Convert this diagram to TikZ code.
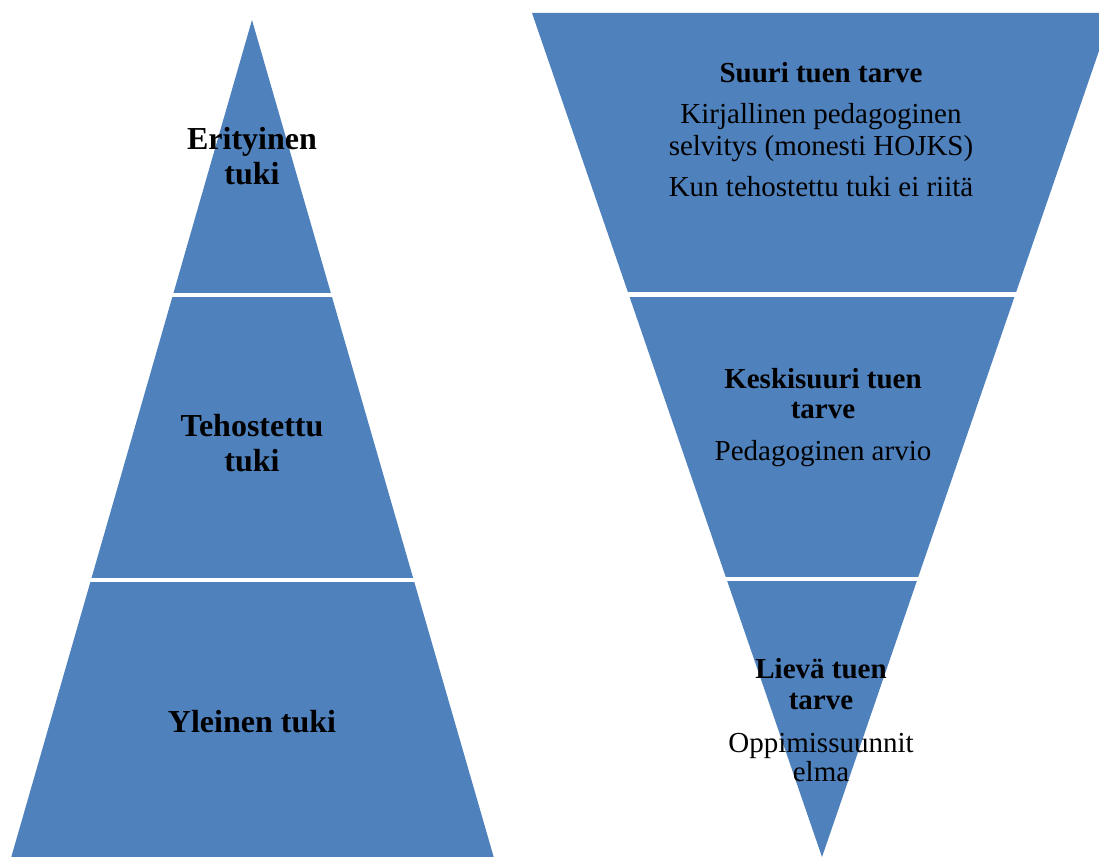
\documentclass[tikz,border=0pt]{standalone}
\usepackage{fontspec}
\setmainfont{Liberation Serif}
\usetikzlibrary{positioning}
\definecolor{tukiblue}{RGB}{79,129,189}

\begin{document}
\begin{tikzpicture}[x=1pt,y=-1pt]
\tikzstyle{level}=[fill=tukiblue]
\tikzstyle{gap}=[draw=white, line width=4.5pt]
\tikzstyle{head}=[align=center, inner sep=0pt, font=\fontsize{32}{35}\selectfont\bfseries]
\tikzstyle{body}=[align=center, inner sep=0pt, font=\fontsize{29}{32}\selectfont]
\useasboundingbox (0,0) rectangle (1099,856);
\clip (0,0) rectangle (1099,856);
% left pyramid
	\path[level] (252,20) -- (494,858) -- (11,858) -- cycle;
	\draw[gap] (165,295) -- (339,295);
	\draw[gap] (83,580) -- (421,580);

	\node[head] (er_tuki) at (252,156) {Erityinen\\tuki};
	\node[head] (teh_tuki) at (252,443) {Tehostettu\\tuki};
	\node[head] (yl_tuki) at (252,722) {Yleinen tuki};

% right, upside down
	\path[level] (532,13) -- (1112,13) -- (822,857) -- cycle;
	\draw[gap] (620,294.5) -- (1024,294.5);
	\draw[gap] (718,579) -- (926,579);

	\node[body] (suuri) at (821,130) {\textbf{Suuri tuen tarve}\\[9pt]Kirjallinen pedagoginen\\selvitys (monesti HOJKS)\\[9pt]Kun tehostettu tuki ei riitä};
	\node[body] (keski) at (823,418) {\textbf{Keskisuuri tuen}\\[-2pt]\textbf{tarve}\\[10pt]Pedagoginen arvio};
	\node[body] (lieva) at (821,720) {\textbf{Lievä tuen}\\[-1pt]\textbf{tarve}\\[11pt]Oppimissuunnit\\[-3pt]elma};
\end{tikzpicture}
\end{document}
